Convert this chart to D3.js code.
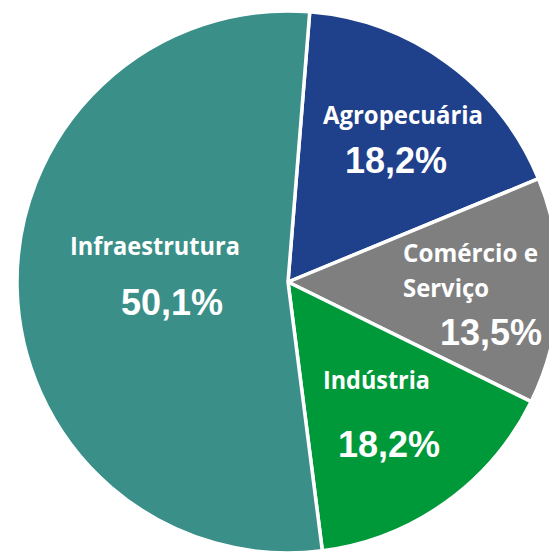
<!DOCTYPE html>
<html>
<head>
<meta charset="utf-8">
<script src="https://cdn.jsdelivr.net/npm/d3@7"></script>
<style>
  body { margin: 0; background: #fff; }
</style>
</head>
<body>
<div id="container"></div>
<script>
// data we work with (slice shares as drawn, labels as printed)
const sectors = ["Agropecuária", "Comércio e Serviço", "Indústria", "Infraestrutura"];
const shares = [17.5, 13.5, 15.7, 53.3];
const pctLabels = ["18,2%", "13,5%", "18,2%", "50,1%"];
const colors = ["#1f408a", "#7f7f7f", "#00993a", "#3a8f88"];

const w = 549;
const h = 552;
const cx = 288, cy = 282, r = 271;

let viz = d3.select("#container")
  .append("svg")
    .attr("width", w)
    .attr("height", h)
;

let pieMaker = d3.pie()
  .sort(null)
  .startAngle(4.6 * Math.PI / 180)
  .endAngle((360 + 4.6) * Math.PI / 180)
;

let arcMaker = d3.arc().innerRadius(0).outerRadius(r);

let g = viz.append("g").attr("transform", "translate(" + cx + "," + cy + ")");

g.selectAll(".slice").data(pieMaker(shares)).enter()
  .append("path")
    .attr("class", "slice")
    .attr("d", arcMaker)
    .attr("fill", (d, i) => colors[i])
    .attr("stroke", "white")
    .attr("stroke-width", 3.5)
    .attr("stroke-linejoin", "round")
;

// label layout: name lines (left x, baseline y, width) and percent (left x, baseline y)
const nameLines = [
  [{t: "Agropecuária", x: 323, y: 124, len: 160}],
  [{t: "Comércio e", x: 403, y: 262, len: 135}, {t: "Serviço", x: 403, y: 297, len: 86}],
  [{t: "Indústria", x: 323, y: 389, len: 107}],
  [{t: "Infraestrutura", x: 70, y: 255, len: 170}]
];
const pctPos = [[345, 173], [440, 345], [338, 457], [121, 315]];

nameLines.forEach(function(lines) {
  lines.forEach(function(l) {
    viz.append("text")
      .attr("x", l.x)
      .attr("y", l.y)
      .attr("textLength", l.len)
      .attr("lengthAdjust", "spacingAndGlyphs")
      .attr("font-family", "'Open Sans', sans-serif")
      .attr("font-weight", "bold")
      .attr("font-size", 25)
      .attr("fill", "white")
      .text(l.t);
  });
});

pctLabels.forEach(function(p, i) {
  viz.append("text")
    .attr("x", pctPos[i][0])
    .attr("y", pctPos[i][1])
    .attr("font-family", "'Liberation Sans', Arial, sans-serif")
    .attr("font-weight", "bold")
    .attr("font-size", 36)
    .attr("fill", "white")
    .text(p);
});
</script>
</body>
</html>
